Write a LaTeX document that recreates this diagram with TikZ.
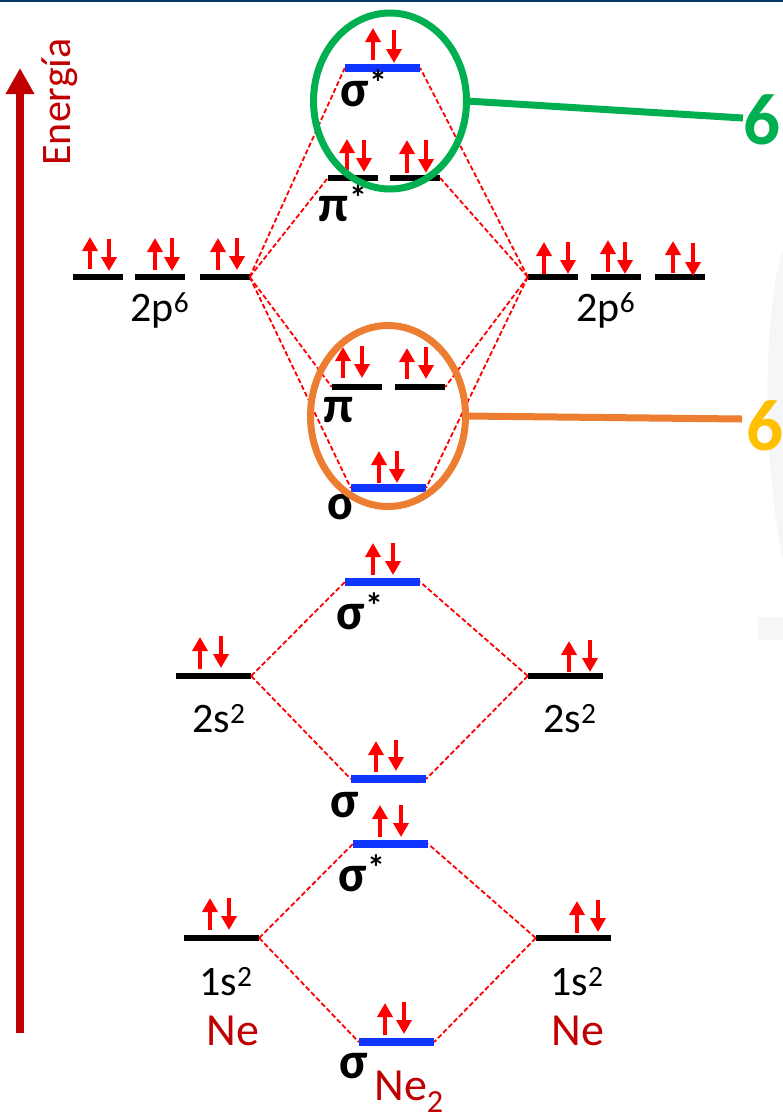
\documentclass[tikz,border=0pt]{standalone}
\usepackage{fontspec}
\setmainfont{Carlito}
\usetikzlibrary{arrows.meta,shapes.geometric}
\definecolor{dkred}{HTML}{C00000}
\definecolor{mored}{HTML}{FF0000}
\definecolor{moblue}{HTML}{0F35FF}
\definecolor{cgreen}{HTML}{00B050}
\definecolor{corange}{HTML}{ED7D31}
\definecolor{cyellow}{HTML}{FFC000}
\definecolor{topbar}{HTML}{003A66}
\definecolor{faint}{HTML}{F6F6F8}
\newcommand{\spin}[6]{%
  \draw[spinarrow] (#1,#3) -- (#1,#2);
  \draw[spinarrow] (#4,#5) -- (#4,#6);}
\newcommand{\starmark}{\raisebox{11pt}{\fontsize{36}{36}\selectfont *}}
\tikzset{
  x=1pt,y=-1pt,
  lev/.style={draw=none,fill=black,inner sep=0pt,minimum height=6.5pt,minimum width=50pt},
  levw/.style={lev,minimum width=75pt},
  mo/.style={draw=none,fill=moblue,inner sep=0pt,minimum height=7.5pt,minimum width=75pt},
  link/.style={draw=mored,dash pattern=on 5pt off 2.5pt,line width=1.8pt},
  spinarrow/.style={draw=mored,line width=4.6pt,-{Triangle[length=14pt,width=15pt]},shorten >=0pt},
  lab/.style={inner sep=0pt,font=\fontsize{42}{42}\selectfont},
  sym/.style={inner sep=0pt,font=\fontsize{52}{52}\selectfont\bfseries},
  nam/.style={inner sep=0pt,text=dkred,font=\fontsize{46}{46}\selectfont},
  ring/.style={ellipse,line width=7pt,inner sep=0pt,outer sep=0pt,fill=none},
  big/.style={inner sep=0pt,font=\fontsize{73}{73}\selectfont\bfseries},
}
\begin{document}
\begin{tikzpicture}
\useasboundingbox (0,0) rectangle (783,1119);
\fill[white] (0,0) rectangle (783,1119);
\fill[faint] (783,250) .. controls (765,300) and (760,450) .. (783,560) -- cycle;
\fill[faint] (758,617) rectangle (783,640);
\fill[topbar] (0,0) rectangle (783,2);

% levels
\node[lev] (pL1) at (98,277) {};
\node[lev] (pL2) at (160,277) {};
\node[lev] (pL3) at (224.5,277) {};
\node[lev] (pR1) at (553,277) {};
\node[lev] (pR2) at (616,277) {};
\node[lev] (pR3) at (680,277) {};
\node[mo] (sa2p) at (382.5,68) {};
\node[lev] (pa1) at (353,178) {};
\node[lev] (pa2) at (415,178) {};
\node[lev] (pb1) at (357,387) {};
\node[lev] (pb2) at (420,387) {};
\node[mo] (sb2p) at (388.5,488) {};
\node[mo] (sa2s) at (382.5,582) {};
\node[levw] (sL) at (213.5,676) {};
\node[levw] (sR) at (565.5,676) {};
\node[mo] (sb2s) at (388.5,779) {};
\node[mo] (sa1s) at (390.5,844) {};
\node[levw] (oL) at (221.5,938) {};
\node[levw] (oR) at (573.5,938) {};
\node[mo] (sb1s) at (396.5,1042) {};

% connectors
\draw[link] (pL3.east) -- (sa2p.west);
\draw[link] (pL3.east) -- (pa1.west);
\draw[link] (pL3.east) -- (pb1.west);
\draw[link] (pL3.east) -- (sb2p.west);
\draw[link] (pR1.west) -- (sa2p.east);
\draw[link] (pR1.west) -- (pa2.east);
\draw[link] (pR1.west) -- (pb2.east);
\draw[link] (pR1.west) -- (sb2p.east);
\draw[link] (sL.east) -- (sa2s.west);
\draw[link] (sL.east) -- (sb2s.west);
\draw[link] (sR.west) -- (sa2s.east);
\draw[link] (sR.west) -- (sb2s.east);
\draw[link] (oL.east) -- (sa1s.west);
\draw[link] (oL.east) -- (sb1s.west);
\draw[link] (oR.west) -- (sa1s.east);
\draw[link] (oR.west) -- (sb1s.east);

% spins
\spin{373}{28}{60}{394}{30}{63}
\spin{347}{139}{170}{364}{140}{172}
\spin{407}{140}{173}{426}{140}{173}
\spin{90}{237}{269}{109}{239}{271}
\spin{155}{238}{270}{172}{238}{271}
\spin{218}{238}{270}{237}{238}{270}
\spin{544}{242}{274}{568}{242}{274}
\spin{608}{240}{272}{625}{242}{274}
\spin{673}{241}{273}{693}{243}{276}
\spin{343}{347}{378}{362}{346}{378}
\spin{407}{348}{379}{426}{347}{379}
\spin{379}{451}{483}{397}{451}{483}
\spin{373}{543}{575}{393}{543}{575}
\spin{200}{637}{669}{221}{636}{668}
\spin{569}{641}{672}{590}{640}{672}
\spin{376}{741}{772}{396}{740}{771}
\spin{380}{805}{837}{401}{805}{837}
\spin{210}{898}{930}{229}{898}{930}
\spin{577}{901}{933}{598}{900}{932}
\spin{385}{1003}{1035}{404}{1002}{1034}

% labels
\node[sym] (l1) at (364,88) {σ\starmark};
\node[sym] (l2) at (343,203) {π\starmark};
\node[sym] (l3) at (339,410) {π};
\node[sym] (l4) at (342,507) {σ};
\node[sym] (l5) at (360,611) {σ\starmark};
\node[sym] (l6) at (345,805) {σ};
\node[sym] (l7) at (362,873) {σ\starmark};
\node[sym] (l8) at (354,1066) {σ};
\node[lab] (t1) at (160,310) {2p\textsuperscript{6}};
\node[lab] (t2) at (606,310) {2p\textsuperscript{6}};
\node[lab] (t3) at (219,719) {2s\textsuperscript{2}};
\node[lab] (t4) at (570,719) {2s\textsuperscript{2}};
\node[lab] (t5) at (226,982) {1s\textsuperscript{2}};
\node[lab] (t6) at (577,982) {1s\textsuperscript{2}};
\node[nam] (n1) at (233,1031) {Ne};
\node[nam] (n2) at (578,1031) {Ne};
\node[nam] (n3) at (409,1092) {Ne\textsubscript{2}};
\node[nam,rotate=90,font=\fontsize{42}{42}\selectfont] (en) at (60,102) {Energía};

% energy axis
\coordinate (axB) at (20,1033);
\coordinate (axT) at (20,68);
\draw[draw=dkred,line width=8.5pt,-{Triangle[length=26pt,width=27pt]}] (axB) -- (axT);

% rings and callouts
\node[ring,draw=cgreen,minimum width=153pt,minimum height=176pt] (ringG) at (390,101) {};
\node[ring,draw=corange,minimum width=155pt,minimum height=181pt] (ringO) at (388,416) {};
\node[big,text=cgreen] (sixG) at (762,120) {6};
\node[big,text=cyellow] (sixO) at (765,426) {6};
\coordinate (endG) at (743,118);
\coordinate (endO) at (742,419);
\draw[draw=cgreen,line width=7pt] (ringG.east) -- (endG);
\draw[draw=corange,line width=7pt] (ringO.east) -- (endO);
\end{tikzpicture}
\end{document}
